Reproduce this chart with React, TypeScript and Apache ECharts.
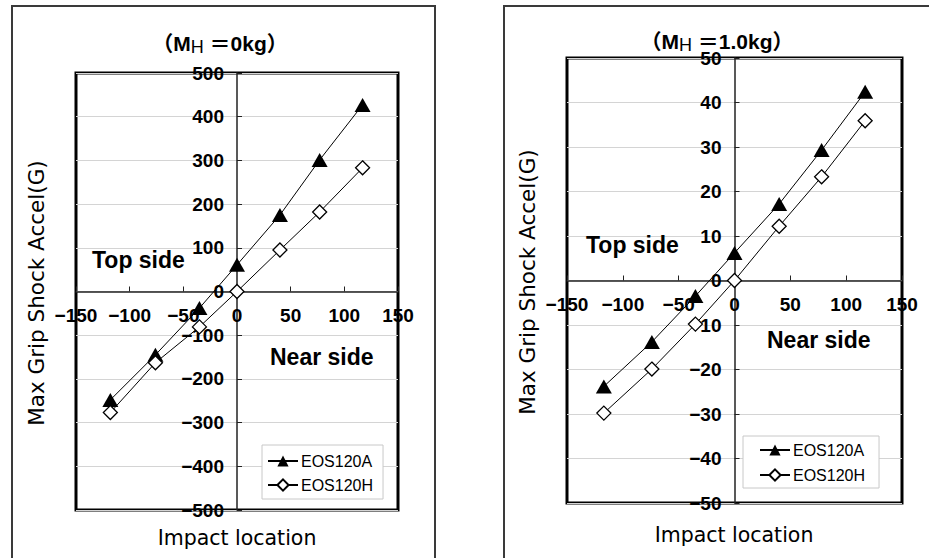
import React, { useEffect, useRef } from "react";
import * as echarts from "echarts";

const seriesNames = ["EOS120A", "EOS120H"];
const xLeft = [-118, -76, -35, 0, 40, 77, 117];
const leftA = [-248, -145, -38, 61, 175, 301, 427];
const leftH = [-277, -163, -81, 0, 95, 182, 283];
const xRight = [-117, -74, -35, 0, 40, 78, 117];
const rightA = [-23.8, -13.8, -3.5, 6.2, 17.2, 29.3, 42.4];
const rightH = [-29.8, -19.9, -9.8, 0, 12.2, 23.3, 35.9];
const titles = ["0kg", "1.0kg"];
const yName = "Max Grip Shock Accel(G)";
const xName = "Impact location";
const topSide = "Top side";
const nearSide = "Near side";

const NUM_FONT = '"Liberation Sans", Arial, sans-serif';
const NAME_FONT = '"DejaVu Sans", sans-serif';

function pairs(xs: number[], ys: number[]) {
  return xs.map((x, i) => [x, ys[i]]);
}

const fmt = (v: number) => String(v).replace("-", "\u2212");

export default function App() {
  const ref = useRef<HTMLDivElement>(null);
  useEffect(() => {
    document.body.style.margin = "0";
    const chart = echarts.init(ref.current!, undefined, { renderer: "svg" });
    const grids = [
      { left: 76, top: 73, width: 322, height: 437 },
      { left: 567, top: 58, width: 335, height: 445 },
    ];
    const yRanges = [
      { min: -500, max: 500, interval: 100 },
      { min: -50, max: 50, interval: 10 },
    ];
    const xAxis = grids.map((g, i) => ({
      type: "value",
      gridIndex: i,
      position: "bottom",
      offset: -g.height / 2,
      min: -150,
      max: 150,
      interval: 50,
      axisLine: { onZero: false, lineStyle: { color: "#222", width: 1.5 } },
      axisTick: { show: true, inside: true, length: 5, lineStyle: { color: "#222", width: 1 } },
      axisLabel: {
        margin: 14,
        formatter: fmt,
        fontFamily: NUM_FONT,
        fontWeight: "bold",
        fontSize: 19,
        color: "#000",
      },
      splitLine: { show: false },
    }));
    const yAxis = grids.map((g, i) => ({
      type: "value",
      gridIndex: i,
      position: "left",
      offset: -g.width / 2,
      ...yRanges[i],
      axisLine: { onZero: false, lineStyle: { color: "#222", width: 1.5 } },
      axisTick: { show: true, inside: true, length: 5, lineStyle: { color: "#222", width: 1 } },
      axisLabel: {
        margin: 13,
        formatter: fmt,
        fontFamily: NUM_FONT,
        fontWeight: "bold",
        fontSize: 19,
        color: "#000",
      },
      splitLine: { show: true, lineStyle: { color: "#d4d4d4", width: 1 } },
    }));
    const mkSeries = (name: string, data: number[][], idx: number, filled: boolean) => ({
      type: "line",
      name,
      xAxisIndex: idx,
      yAxisIndex: idx,
      data,
      symbol: filled ? "triangle" : "diamond",
      symbolSize: filled ? [16, 14] : 14,
      lineStyle: { color: "#000", width: 1 },
      itemStyle: filled
        ? { color: "#000", borderColor: "#000", borderWidth: 0 }
        : { color: "#fff", borderColor: "#000", borderWidth: 1.3 },
      z: filled ? 3 : 4,
    });
    const series = [
      mkSeries(seriesNames[0], pairs(xLeft, leftA), 0, true),
      mkSeries(seriesNames[1], pairs(xLeft, leftH), 0, false),
      mkSeries(seriesNames[0], pairs(xRight, rightA), 1, true),
      mkSeries(seriesNames[1], pairs(xRight, rightH), 1, false),
    ];
    const legendBase = {
      orient: "vertical",
      data: seriesNames,
      itemWidth: 30,
      itemHeight: 14,
      itemGap: 8,
      borderColor: "#c8c8c8",
      borderWidth: 1,
      backgroundColor: "#fff",
      selectedMode: false,
      textStyle: { fontFamily: NUM_FONT, fontSize: 16, color: "#000", padding: [0, 0, 0, -2] },
    };
    const legend = [
      { ...legendBase, left: 262, top: 445, padding: [8, 10, 6, 5] },
      { ...legendBase, left: 743, top: 436, itemGap: 9, padding: [6, 14, 5, 16] },
    ];
    const titleText = (cx: number, cy: number, t: string) => ({
      type: "text",
      x: cx,
      y: cy,
      z: 10,
      style: {
        text: "\uff08M{h|H} \uff1d" + t + "\uff09",
        align: "center",
        verticalAlign: "middle",
        font: 'bold 21px "Liberation Sans", "Noto Sans CJK JP", sans-serif',
        fill: "#000",
        rich: {
          h: {
            font: '18px "Liberation Sans", sans-serif',
            fill: "#000",
            verticalAlign: "bottom",
            padding: [7, 0, 0, 0],
          },
        },
      },
    });
    const plain = (x: number, y: number, text: string, font: string, align: string, rot = 0) => ({
      type: "text",
      x,
      y,
      rotation: rot,
      z: 10,
      style: { text, font, fill: "#000", align, verticalAlign: "middle" },
    });
    const sideFont = 'bold 23px "Liberation Sans", Arial, sans-serif';
    const nameFont = '20.5px ' + NAME_FONT;
    const graphic = [
      {
        type: "rect",
        shape: { x: 12, y: 6, width: 423, height: 620 },
        style: { fill: "none", stroke: "#3a3a3a", lineWidth: 2 },
        z: 0,
      },
      {
        type: "rect",
        shape: { x: 504, y: 6, width: 500, height: 620 },
        style: { fill: "none", stroke: "#3a3a3a", lineWidth: 2 },
        z: 0,
      },
      titleText(220, 43, titles[0]),
      titleText(717, 41, titles[1]),
      plain(36, 293, yName, '21.5px ' + NAME_FONT, "center", Math.PI / 2),
      plain(527, 282, yName, '21.5px ' + NAME_FONT, "center", Math.PI / 2),
      plain(237, 538, xName, nameFont, "center"),
      plain(734, 535, xName, nameFont, "center"),
      plain(92, 260, topSide, sideFont, "left"),
      plain(270, 357, nearSide, sideFont, "left"),
      plain(586, 245, topSide, sideFont, "left"),
      plain(767, 340, nearSide, sideFont, "left"),
    ];
    chart.setOption({
      animation: false,
      backgroundColor: "#fff",
      grid: grids.map((g) => ({ ...g, show: true, borderColor: "#000", borderWidth: 3, backgroundColor: "transparent" })),
      xAxis,
      yAxis,
      series,
      legend,
      graphic,
    });
    return () => chart.dispose();
  }, []);
  return (
    <div
      ref={ref}
      style={{ position: "absolute", left: 0, top: 0, width: 929, height: 558 }}
    />
  );
}
